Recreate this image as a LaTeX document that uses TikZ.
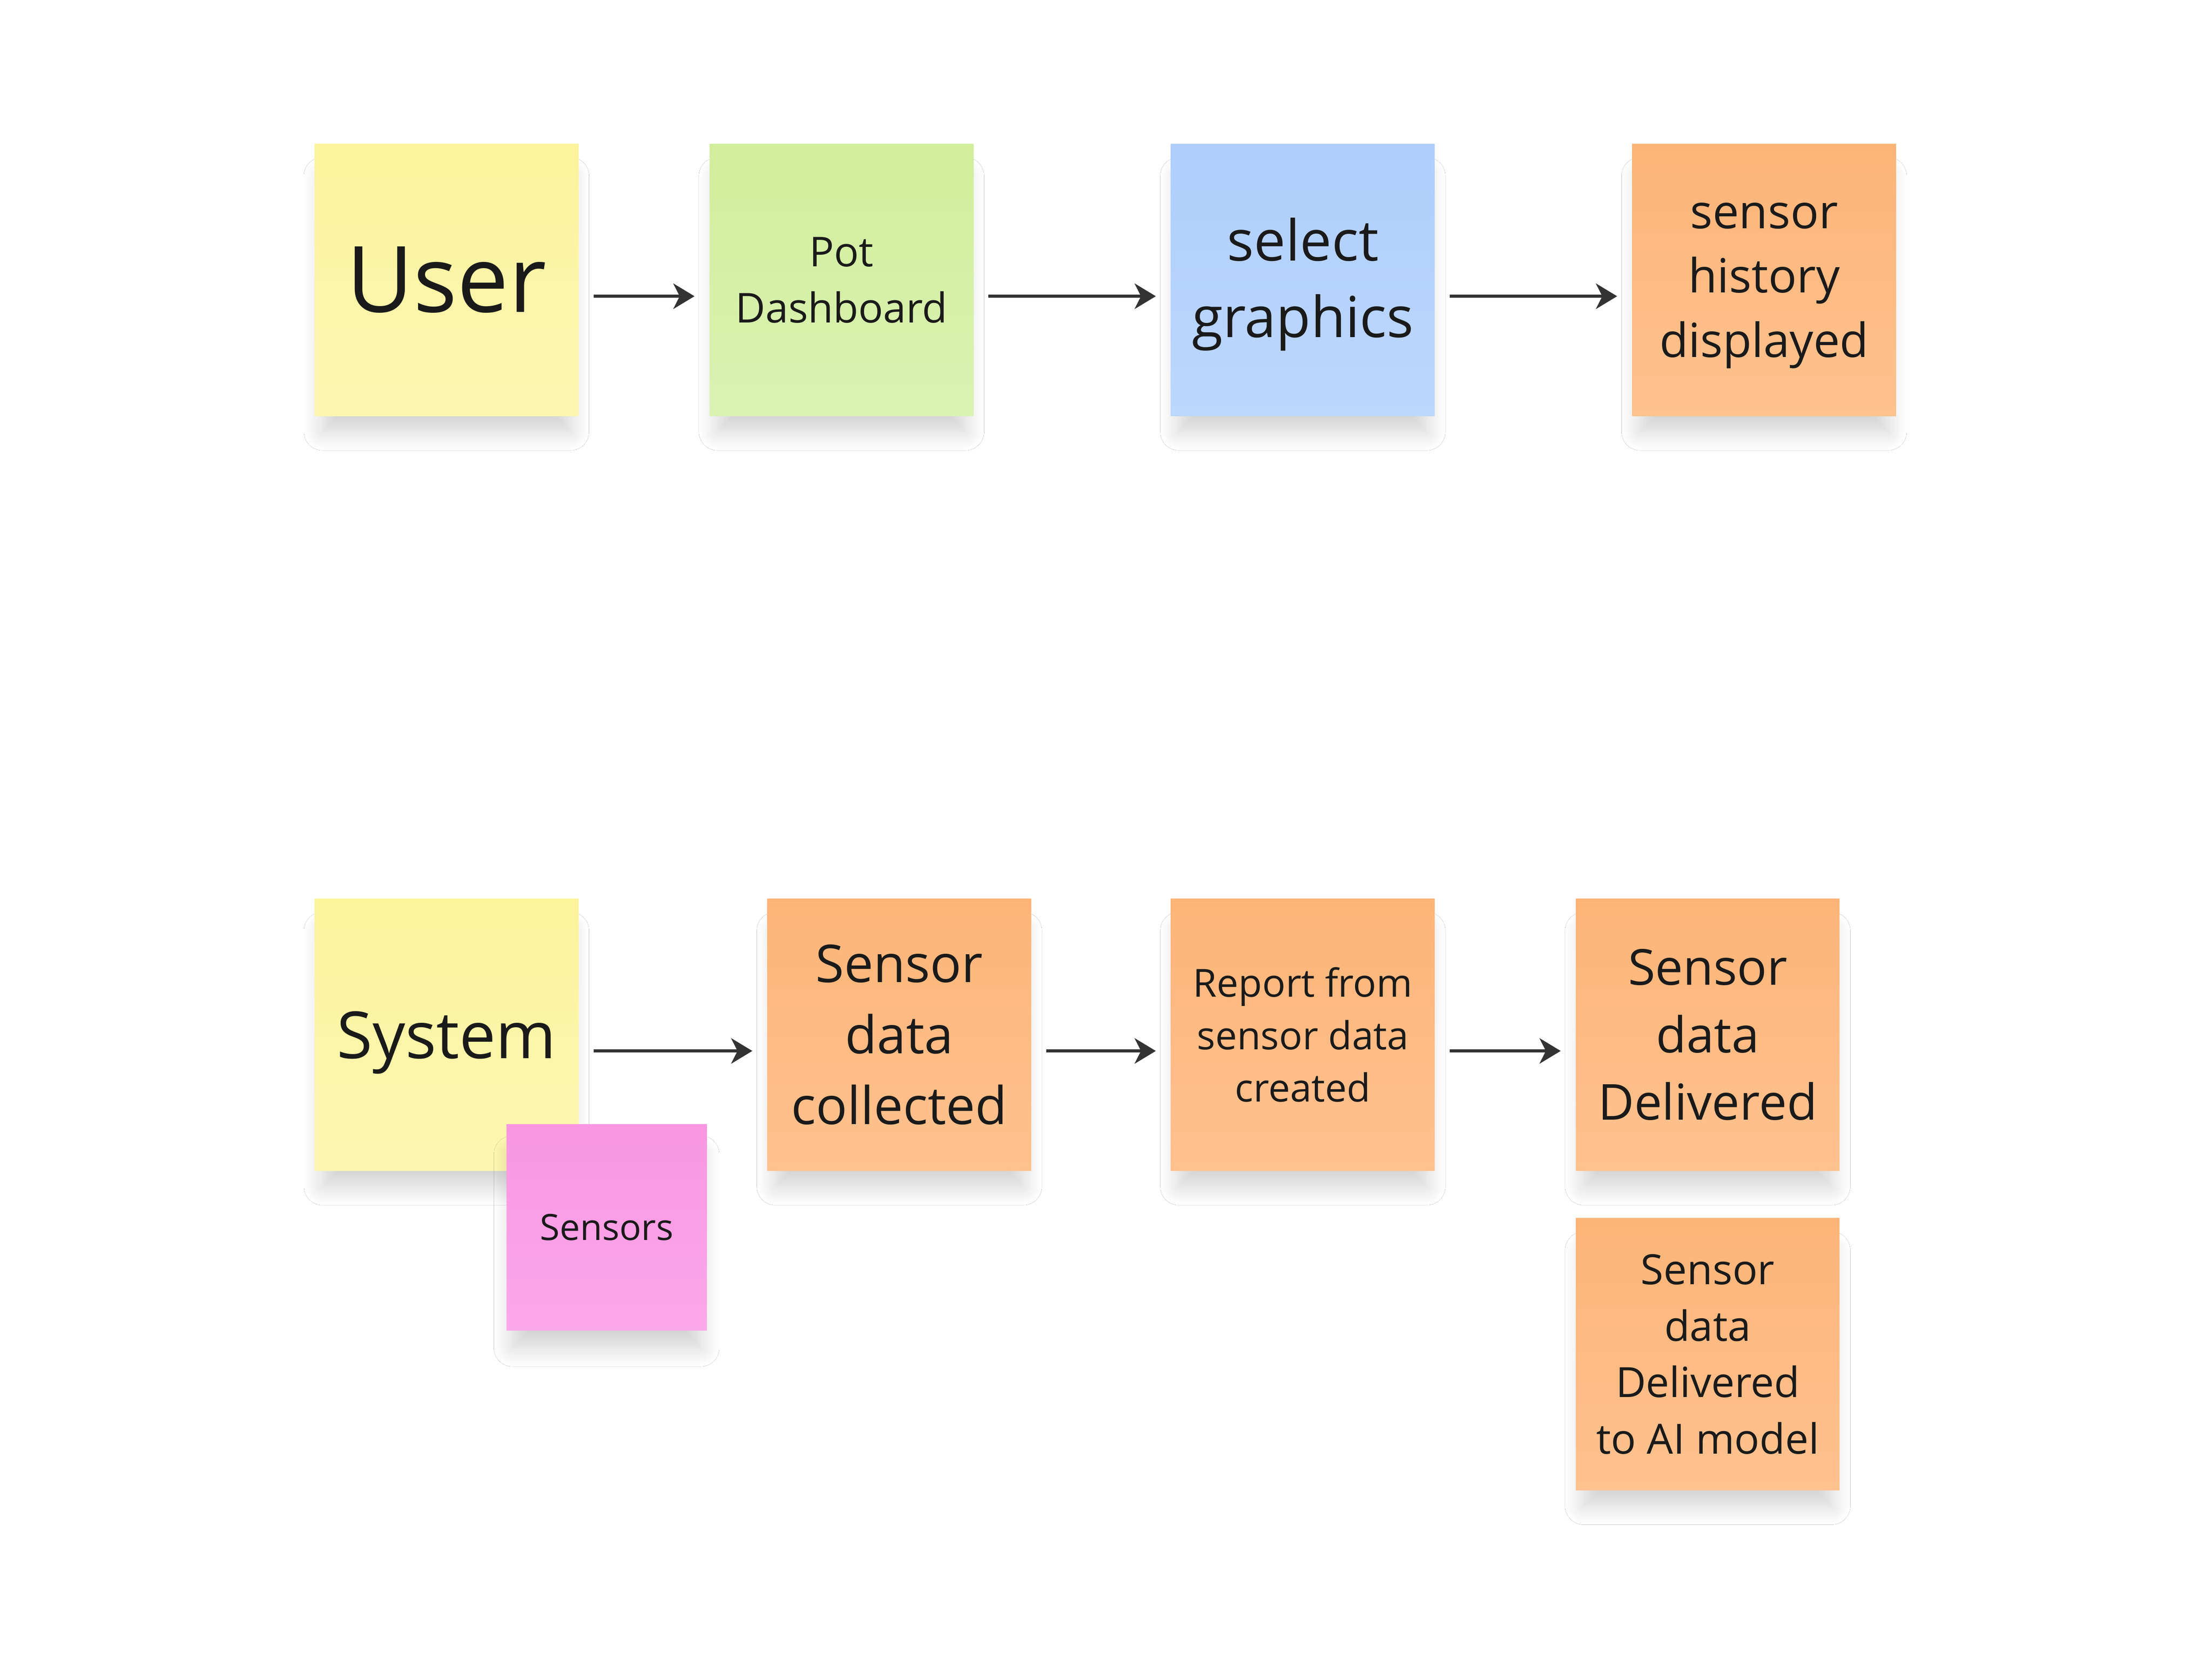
\documentclass[tikz,border=0pt]{standalone}
\usepackage{fontspec}
\setmainfont{Open Sans}
\usetikzlibrary{arrows.meta,shadows.blur}
\definecolor{ytop}{HTML}{FCF39B}\definecolor{ybot}{HTML}{FDF6B2}
\definecolor{gtop}{HTML}{D0EE9C}\definecolor{gbot}{HTML}{DAF2B2}
\definecolor{btop}{HTML}{AFCEFC}\definecolor{bbot}{HTML}{BDD7FD}
\definecolor{otop}{HTML}{FDB477}\definecolor{obot}{HTML}{FEC28F}
\definecolor{ptop}{HTML}{F996E2}\definecolor{pbot}{HTML}{FBA8EA}
\definecolor{arrowgray}{HTML}{333333}
\definecolor{inkblack}{HTML}{1A1A1A}
\begin{document}
\begin{tikzpicture}[
   note/.style={rectangle, minimum width=1.87cm, minimum height=1.93cm, inner sep=0pt,
      align=center, text=inkblack,
      blur shadow={shadow xshift=0pt, shadow yshift=-1.8mm, shadow scale=0.94,
         shadow blur radius=1.4mm, shadow blur steps=14, shadow opacity=18}},
   yellow/.style={note, top color=ytop, bottom color=ybot},
   green/.style={note, top color=gtop, bottom color=gbot},
   blue/.style={note, top color=btop, bottom color=bbot},
   orange/.style={note, top color=otop, bottom color=obot},
   pink/.style={note, top color=ptop, bottom color=pbot, minimum width=1.42cm, minimum height=1.46cm},
   flow/.style={draw=arrowgray, line width=0.6pt, shorten <=1mm, shorten >=1mm,
      -{Stealth[length=1.5mm, width=1.8mm, inset=0.45mm]}}]
   \useasboundingbox[fill=white] (0,0) rectangle (15.68,-11.81);

   % first row
   \node[yellow, font=\fontsize{18.5}{25}\selectfont] (user) at (3.165,-1.985) {User};
   \node[green, font=\fontsize{8.3}{11.3}\selectfont] (dash) at (5.965,-1.985) {Pot\\Dashboard};
   \node[blue, font=\fontsize{11.4}{15.5}\selectfont, text depth=1pt] (select) at (9.235,-1.985) {select\\graphics};
   \node[orange, font=\fontsize{9.5}{13}\selectfont, text depth=0pt] (history) at (12.505,-1.985) {sensor\\history\\displayed};

   \draw[flow] ([yshift=-1.15mm]user.east) -- ([yshift=-1.15mm]dash.west);
   \draw[flow] ([yshift=-1.15mm]dash.east) -- ([yshift=-1.15mm]select.west);
   \draw[flow] ([yshift=-1.15mm]select.east) -- ([yshift=-1.15mm]history.west);

   % second row
   \node[yellow, font=\fontsize{13.1}{17.8}\selectfont, text depth=0pt] (system) at (3.165,-7.335) {System};
   \node[pink, font=\fontsize{7.3}{9.9}\selectfont] (sensors) at (4.30,-8.70) {Sensors};
   \node[orange, font=\fontsize{10.5}{14.3}\selectfont] (collected) at (6.375,-7.335) {Sensor\\data\\collected};
   \node[orange, font=\fontsize{7.8}{10.6}\selectfont] (report) at (9.235,-7.335) {Report from\\sensor data\\created};
   \node[orange, font=\fontsize{10}{13.6}\selectfont] (delivered) at (12.105,-7.335) {Sensor\\data\\Delivered};
   \node[orange, font=\fontsize{8.4}{11.4}\selectfont] (aimodel) at (12.105,-9.60) {Sensor\\data\\Delivered\\to AI model};

   \draw[flow] ([yshift=-1.15mm]system.east) -- ([yshift=-1.15mm]collected.west);
   \draw[flow] ([yshift=-1.15mm]collected.east) -- ([yshift=-1.15mm]report.west);
   \draw[flow] ([yshift=-1.15mm]report.east) -- ([yshift=-1.15mm]delivered.west);
\end{tikzpicture}
\end{document}
